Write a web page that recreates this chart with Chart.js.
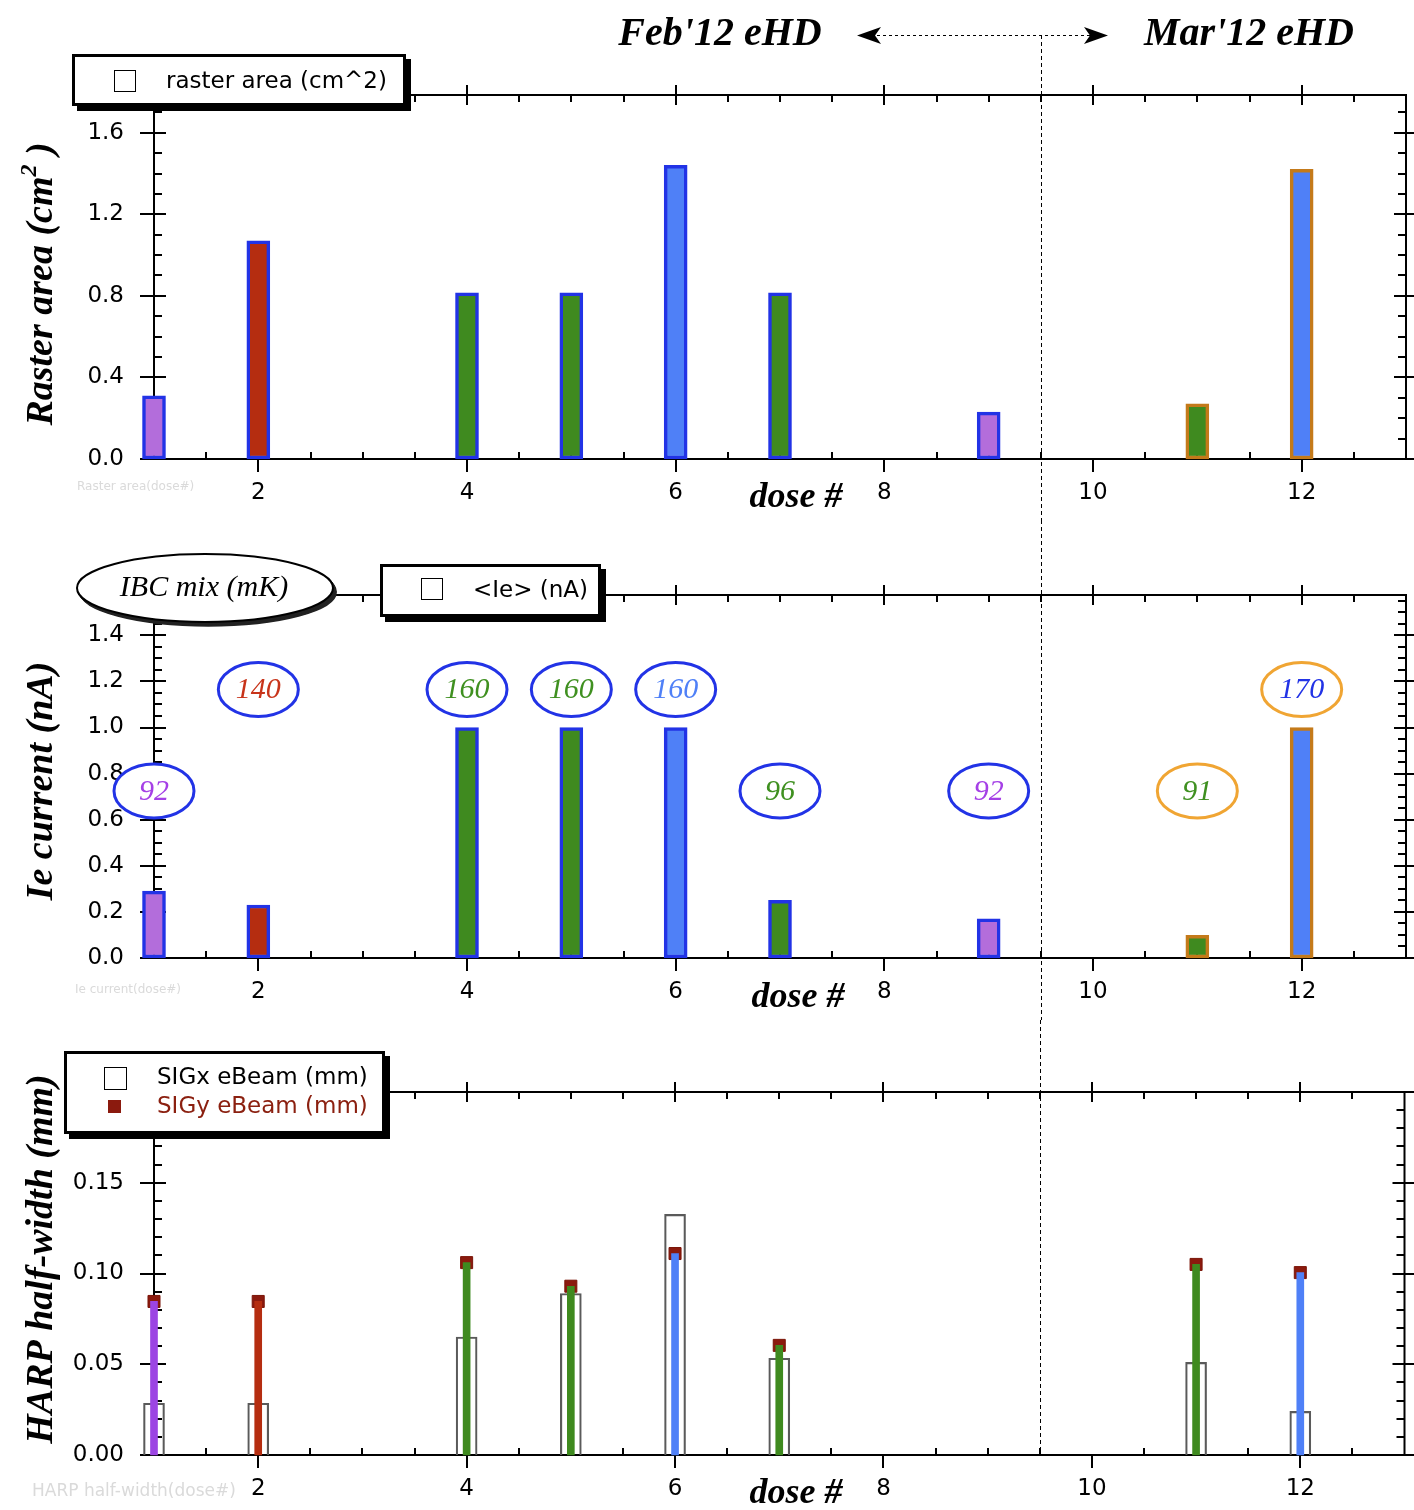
<!DOCTYPE html>
<html>
<head>
<meta charset="utf-8">
<script src="https://cdn.jsdelivr.net/npm/chart.js@4.4.1/dist/chart.umd.min.js"></script>
<style>
html,body{margin:0;padding:0;background:#fff;}
#wrap{position:relative;width:1414px;height:1510px;overflow:hidden;background:#fff;}
#wrap canvas{position:absolute;left:0;}
</style>
</head>
<body>
<div id="wrap">
<canvas id="c1" width="1414" height="520" style="top:0px"></canvas>
<canvas id="c2" width="1414" height="500" style="top:520px"></canvas>
<canvas id="c3" width="1414" height="490" style="top:1020px"></canvas>
</div>
<script>
// ---------------- DATA ----------------
const doses = [1, 2, 4, 5, 6, 7, 9, 11, 12];
const rasterArea = [0.31, 1.07, 0.815, 0.815, 1.44, 0.815, 0.23, 0.27, 1.42];
const ieCurrent = [0.29, 0.23, 1.0, 1.0, 1.0, 0.25, 0.17, 0.098, 1.0];
const ibcMix = [92, 140, 160, 160, 160, 96, 92, 91, 170];
const harpDoses = [1, 2, 4, 5, 6, 7, 11, 12];
const sigX = [0.0285, 0.0285, 0.065, 0.089, 0.1326, 0.0533, 0.051, 0.024];
const sigY = [0.0846, 0.0846, 0.106, 0.093, 0.111, 0.0604, 0.105, 0.1005];
const xTicks = [2, 4, 6, 8, 10, 12];
const rasterTicks = [0.0, 0.4, 0.8, 1.2, 1.6];
const ieTicks = [0.0, 0.2, 0.4, 0.6, 0.8, 1.0, 1.2, 1.4];
const harpTicks = [0.00, 0.05, 0.10, 0.15];
const runSplit = 9.5; // Feb'12 / Mar'12 boundary (dose #)

// ---------------- STYLES ----------------
const FEB_BORDER = '#2233e6', MAR_BORDER = '#c47a1a', MAR_ELLIPSE = '#f0a533';
const PURPLE = '#b36ddb', RED = '#b52d10', GREEN = '#3f8a1f', BLUE = '#4f80f7';
const doseFill = [PURPLE, RED, GREEN, GREEN, BLUE, GREEN, PURPLE, GREEN, BLUE];
const labelColors = ['#a540e6', '#c8341a', '#3f9020', '#3f9020', '#4f80f7', '#3f9020', '#a540e6', '#3f9020', '#2233e6'];
const doseBorder = doses.map(d => d > runSplit ? MAR_BORDER : FEB_BORDER);
const ellipseBorder = doses.map(d => d > runSplit ? MAR_ELLIPSE : FEB_BORDER);
const stickColor = harpDoses.map(d => {
  const c = doseFill[doses.indexOf(d)];
  return c === PURPLE ? '#9c45e3' : c;
});
const TICK_FONT = {family: 'DejaVu Sans', size: 23};
const SERIF = '"Liberation Serif", "DejaVu Serif", serif';
const SANS = '"DejaVu Sans", sans-serif';

// ---------------- HELPERS ----------------
function xScale() {
  return {
    type: 'linear', min: 1, max: 13, offset: false,
    afterBuildTicks: s => { s.ticks = xTicks.map(v => ({value: v})); },
    afterFit: s => { s.height = 40; },
    ticks: {font: TICK_FONT, color: '#000', padding: 20, maxRotation: 0, autoSkip: false,
      callback: v => String(v)},
    grid: {display: false, drawTicks: false},
    border: {display: false}
  };
}
function yScale(max, ticks, digits) {
  return {
    type: 'linear', min: 0, max: max,
    afterBuildTicks: s => { s.ticks = ticks.map(v => ({value: v})); },
    afterFit: s => { s.width = 100; },
    ticks: {font: TICK_FONT, color: '#000', padding: 30, autoSkip: false,
      callback: v => Number(v).toFixed(digits)},
    grid: {display: false, drawTicks: false},
    border: {display: false}
  };
}
function line(ctx, x1, y1, x2, y2) { ctx.moveTo(x1, y1); ctx.lineTo(x2, y2); }

function axesPlugin(yMinor, yMajor) {
  return {
    id: 'igorAxes',
    beforeDatasetsDraw(chart) {
      const {ctx, chartArea: a, scales: {x, y}} = chart;
      ctx.save();
      ctx.strokeStyle = '#000';
      ctx.lineWidth = 2;
      ctx.beginPath();
      ctx.rect(a.left, a.top, a.right - a.left, a.bottom - a.top);
      const nx = Math.round((x.max - x.min) / 0.5);
      for (let k = 1; k < nx; k++) {
        const v = x.min + k * 0.5;
        const px = Math.round(x.getPixelForValue(v));
        const major = Math.abs(v / 2 - Math.round(v / 2)) < 1e-9;
        if (major) {
          line(ctx, px, a.bottom, px, a.bottom + 13);
          line(ctx, px, a.top - 10, px, a.top + 10);
        } else {
          line(ctx, px, a.bottom, px, a.bottom - 7);
          line(ctx, px, a.top, px, a.top + 7);
        }
      }
      const ny = Math.floor((y.max - y.min) / yMinor + 1e-6);
      for (let k = 0; k <= ny; k++) {
        const v = k * yMinor;
        const py = Math.round(y.getPixelForValue(v));
        const r = v / yMajor;
        const major = Math.abs(r - Math.round(r)) < 1e-6;
        if (major) {
          line(ctx, a.left - 14, py, a.left + 12, py);
          line(ctx, a.right - 12, py, a.right + 10, py);
        } else {
          line(ctx, a.left, py, a.left + 8, py);
          line(ctx, a.right - 8, py, a.right, py);
        }
      }
      ctx.stroke();
      ctx.restore();
    }
  };
}

function splitLine(chart, yFrom, yTo) {
  const {ctx, scales: {x}} = chart;
  const px = Math.round(x.getPixelForValue(runSplit)) + 0.5;
  ctx.save();
  ctx.strokeStyle = '#000';
  ctx.lineWidth = 1;
  ctx.setLineDash([4, 3]);
  ctx.beginPath();
  line(ctx, px, yFrom, px, yTo);
  ctx.stroke();
  ctx.restore();
}

function vTitle(ctx, parts, cx, cy) {
  ctx.save();
  ctx.translate(cx, cy);
  ctx.rotate(-Math.PI / 2);
  ctx.textBaseline = 'alphabetic';
  ctx.textAlign = 'left';
  let total = 0;
  parts.forEach(p => { ctx.font = p.font; p.w = ctx.measureText(p.t).width; total += p.w; });
  let xx = -total / 2;
  parts.forEach(p => { ctx.font = p.font; ctx.fillStyle = '#000'; ctx.fillText(p.t, xx, p.dy || 0); xx += p.w; });
  ctx.restore();
}

function text(ctx, t, x, y, font, color, align) {
  ctx.save();
  ctx.font = font;
  ctx.fillStyle = color || '#000';
  ctx.textAlign = align || 'center';
  ctx.textBaseline = 'middle';
  ctx.fillText(t, x, y);
  ctx.restore();
}

function shadowBox(ctx, x1, y1, x2, y2) {
  ctx.save();
  ctx.fillStyle = '#000';
  ctx.fillRect(x1 + 5, y1 + 5, x2 - x1, y2 - y1);
  ctx.fillStyle = '#fff';
  ctx.fillRect(x1, y1, x2 - x1, y2 - y1);
  ctx.strokeStyle = '#000';
  ctx.lineWidth = 3;
  ctx.strokeRect(x1 + 1.5, y1 + 1.5, x2 - x1 - 3, y2 - y1 - 3);
  ctx.restore();
}

function openSquare(ctx, x, y, s) {
  ctx.save();
  ctx.strokeStyle = '#000';
  ctx.lineWidth = 1;
  ctx.strokeRect(x + 0.5, y + 0.5, s, s);
  ctx.restore();
}

function ellipse(ctx, cx, cy, rx, ry, stroke, lw, fill) {
  ctx.save();
  ctx.beginPath();
  ctx.ellipse(cx, cy, rx, ry, 0, 0, Math.PI * 2);
  ctx.fillStyle = fill || '#fff';
  ctx.fill();
  ctx.lineWidth = lw;
  ctx.strokeStyle = stroke;
  ctx.stroke();
  ctx.restore();
}

function doseLabel(ctx, x, y) {
  text(ctx, 'dose #', x, y, 'italic bold 36px ' + SERIF, '#000');
}

const common = {
  responsive: false,
  animation: false,
  events: [],
  plugins: {legend: {display: false}, tooltip: {enabled: false}}
};

function barDataset(values, extra) {
  return Object.assign({
    type: 'bar',
    data: doses.map((d, i) => ({x: d, y: values[i]})),
    backgroundColor: doseFill,
    borderColor: doseBorder,
    borderWidth: 3.5,
    borderSkipped: false,
    barThickness: 23,
    grouped: false,
    clip: false
  }, extra || {});
}

// ---------------- PANEL 1 : Raster area ----------------
new Chart(document.getElementById('c1'), {
  type: 'bar',
  data: {datasets: [barDataset(rasterArea)]},
  options: Object.assign({}, common, {
    layout: {padding: {left: 54, right: 8, top: 95, bottom: 21}},
    scales: {x: xScale(), y: yScale(1.785, rasterTicks, 1)}
  }),
  plugins: [axesPlugin(0.1, 0.4), {
    id: 'deco1',
    beforeDatasetsDraw(chart) { splitLine(chart, 35, chart.height); },
    afterDraw(chart) {
      const ctx = chart.ctx;
      const sx = Math.round(chart.scales.x.getPixelForValue(runSplit));
      text(ctx, "Feb'12 eHD", 720, 35, 'italic bold 40px ' + SERIF);
      text(ctx, "Mar'12 eHD", 1249, 35, 'italic bold 40px ' + SERIF);
      ctx.save();
      ctx.strokeStyle = '#000'; ctx.lineWidth = 1; ctx.setLineDash([3, 3]);
      ctx.beginPath(); line(ctx, sx - 176, 35.5, sx + 60, 35.5); ctx.stroke();
      ctx.setLineDash([]);
      ctx.fillStyle = '#000';
      ctx.beginPath(); ctx.moveTo(sx - 184, 35.5); ctx.lineTo(sx - 160, 27); ctx.lineTo(sx - 166, 35.5); ctx.lineTo(sx - 160, 44); ctx.closePath(); ctx.fill();
      ctx.beginPath(); ctx.moveTo(sx + 67, 35.5); ctx.lineTo(sx + 43, 27); ctx.lineTo(sx + 49, 35.5); ctx.lineTo(sx + 43, 44); ctx.closePath(); ctx.fill();
      ctx.restore();
      shadowBox(ctx, 72, 54, 406, 106);
      openSquare(ctx, 114, 70, 21);
      text(ctx, 'raster area (cm^2)', 166, 82, '23px ' + SANS, '#000', 'left');
      vTitle(ctx, [
        {t: 'Raster area (cm', font: 'italic bold 38px ' + SERIF},
        {t: '2', font: 'italic bold 24px ' + SERIF, dy: -16},
        {t: ' )', font: 'italic bold 38px ' + SERIF}
      ], 52, 284);
      doseLabel(ctx, 796, 498);
      text(ctx, 'Raster area(dose#)', 77, 487, '12px ' + SANS, '#dadada', 'left');
    }
  }]
});

// ---------------- PANEL 2 : Ie current ----------------
new Chart(document.getElementById('c2'), {
  type: 'bar',
  data: {datasets: [barDataset(ieCurrent)]},
  options: Object.assign({}, common, {
    layout: {padding: {left: 54, right: 8, top: 75, bottom: 22}},
    scales: {x: xScale(), y: yScale(1.575, ieTicks, 1)}
  }),
  plugins: [axesPlugin(0.05, 0.2), {
    id: 'deco2',
    beforeDatasetsDraw(chart) { splitLine(chart, 0, chart.height); },
    afterDraw(chart) {
      const ctx = chart.ctx;
      const {x, y} = chart.scales;
      doses.forEach((d, i) => {
        const level = ibcMix[i] >= 120 ? 1.165 : 0.725;
        const cx = x.getPixelForValue(d), cy = y.getPixelForValue(level);
        ellipse(ctx, cx, cy, 40, 27, ellipseBorder[i], 3);
        text(ctx, String(ibcMix[i]), cx, cy + 1, 'italic 30px ' + SERIF, labelColors[i]);
      });
      for (let k = 4; k >= 1; k--) ellipse(ctx, 205 + k * 0.8, 68 + k, 128, 34, '#222', 1.5, '#222');
      ellipse(ctx, 205, 68, 128, 34, '#000', 2, '#fff');
      text(ctx, 'IBC mix (mK)', 204, 68, 'italic 30px ' + SERIF);
      shadowBox(ctx, 380, 44, 601, 97);
      openSquare(ctx, 421, 58, 21);
      text(ctx, '<Ie> (nA)', 473, 71, '23px ' + SANS, '#000', 'left');
      vTitle(ctx, [{t: 'Ie current (nA)', font: 'italic bold 38px ' + SERIF}], 52, 261);
      doseLabel(ctx, 798, 478);
      text(ctx, 'Ie current(dose#)', 75, 470, '12px ' + SANS, '#dadada', 'left');
    }
  }]
});

// ---------------- PANEL 3 : HARP half-width ----------------
new Chart(document.getElementById('c3'), {
  type: 'bar',
  data: {datasets: [
    {
      type: 'bar', label: 'SIGy sticks', order: 0,
      data: harpDoses.map((d, i) => ({x: d, y: sigY[i]})),
      backgroundColor: stickColor, borderWidth: 0,
      barThickness: 7, grouped: false, clip: false
    },
    {
      type: 'scatter', label: 'SIGy eBeam (mm)', order: 1,
      data: harpDoses.map((d, i) => ({x: d, y: sigY[i]})),
      pointStyle: 'rect', pointRadius: 8.5,
      backgroundColor: '#8b1a0e', borderColor: '#7a1508', borderWidth: 1,
      showLine: false, clip: false
    },
    {
      type: 'bar', label: 'SIGx eBeam (mm)', order: 2,
      data: harpDoses.map((d, i) => ({x: d, y: sigX[i]})),
      backgroundColor: 'rgba(0,0,0,0)', borderColor: '#5a5a5a', borderWidth: 1.5,
      borderSkipped: 'start', barThickness: 21, grouped: false, clip: false
    }
  ]},
  options: Object.assign({}, common, {
    layout: {padding: {left: 54, right: 8, top: 72, bottom: 15}},
    scales: {x: xScale(), y: yScale(0.2, harpTicks, 2)}
  }),
  plugins: [axesPlugin(0.01, 0.05), {
    id: 'deco3',
    beforeDatasetsDraw(chart) { splitLine(chart, 0, chart.chartArea.bottom); },
    afterDraw(chart) {
      const ctx = chart.ctx;
      shadowBox(ctx, 64, 31, 385, 114);
      openSquare(ctx, 104, 47, 22);
      text(ctx, 'SIGx eBeam (mm)', 157, 58, '23px ' + SANS, '#000', 'left');
      ctx.save(); ctx.fillStyle = '#8b1a0e'; ctx.fillRect(108, 80, 13, 13); ctx.restore();
      text(ctx, 'SIGy eBeam (mm)', 157, 87, '23px ' + SANS, '#8b2010', 'left');
      vTitle(ctx, [{t: 'HARP half-width (mm)', font: 'italic bold 38px ' + SERIF}], 52, 239);
      doseLabel(ctx, 796, 474);
      text(ctx, 'HARP half-width(dose#)', 32, 472, '17px ' + SANS, '#dadada', 'left');
    }
  }]
});
</script>
</body>
</html>
